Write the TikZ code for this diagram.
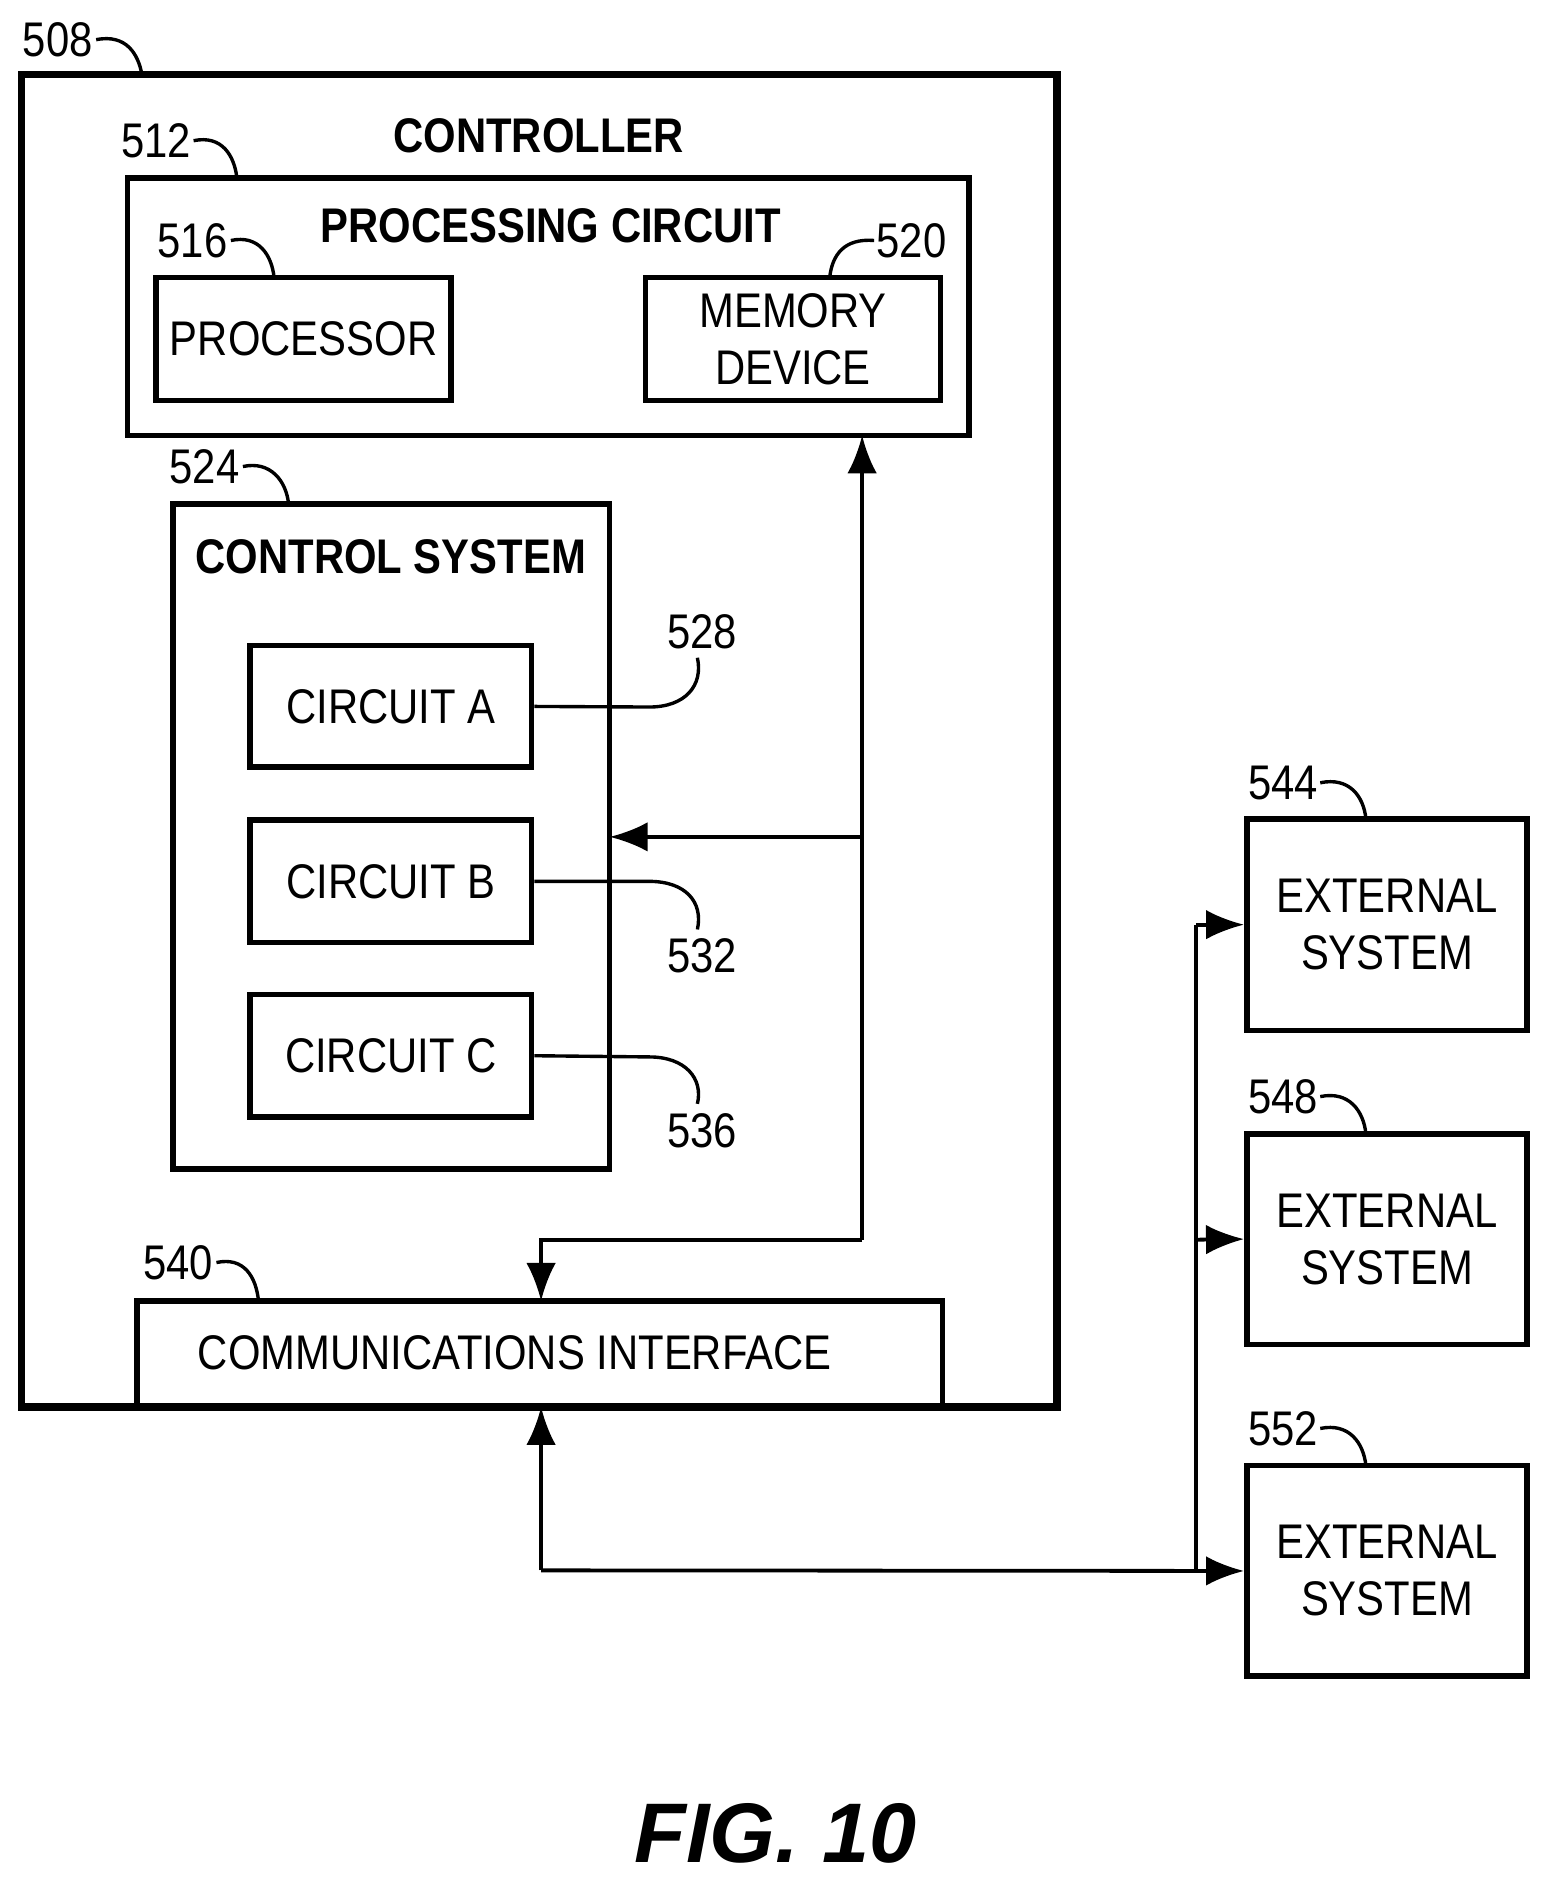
\documentclass[tikz,border=0pt]{standalone}
\usepackage{fontspec}
\setmainfont{Liberation Sans}[FakeStretch=0.86]
\newfontfamily\figfont{Liberation Sans}
\usetikzlibrary{arrows.meta}
\begin{document}
\begin{tikzpicture}[x=0.01cm,y=-0.01cm,
  box/.style={draw,line width=1.3pt},
  txt/.style={font=\fontsize{11.5}{13.5}\selectfont,align=center,inner sep=0pt},
  btxt/.style={font=\fontsize{11.5}{14}\selectfont\bfseries,inner sep=0pt},
  lead/.style={line width=0.8pt},
  con/.style={line width=0.9pt},
  arr/.style={con,-{Latex[length=9pt,width=7pt]}}]
\useasboundingbox (0,0) rectangle (1300,1581);
% controller
\draw[line width=1.8pt] (18,62) rectangle (879,1170);
\node[txt] (l508) at (48,33) {508};
\draw[lead] (80,33) .. controls (105,28) and (115,45) .. (118,62);
\node[btxt] (ctl) at (448,113) {CONTROLLER};
% processing circuit
\draw[box] (106,148) rectangle (806,362);
\coordinate (pctop) at (717,362);
\node[txt] (l512) at (130,117) {512};
\draw[lead] (161,117) .. controls (185,112) and (195,130) .. (197,148);
\node[btxt] (pc) at (458,188) {PROCESSING CIRCUIT};
\node[box,minimum width=2.45cm,minimum height=1.02cm,txt] (proc) at (252.5,282) {PROCESSOR};
\node[txt] (l516) at (160,200) {516};
\draw[lead] (192,200) .. controls (215,195) and (226,212) .. (228,231);
\node[box,minimum width=2.45cm,minimum height=1.02cm,txt] (mem) at (659.5,282) {MEMORY\\DEVICE};
\node[txt] (l520) at (758,200) {520};
\draw[lead] (727,200) .. controls (702,198) and (692,212) .. (690,231);
% control system
\draw[box] (144,419) rectangle (507,972);
\coordinate (csr) at (507,696);
\node[txt] (l524) at (170,388) {524};
\draw[lead] (202,388) .. controls (225,383) and (238,400) .. (240,419);
\node[btxt] (cs) at (325,463) {CONTROL SYSTEM};
\node[box,minimum width=2.34cm,minimum height=1.01cm,txt] (ca) at (325,587.5) {CIRCUIT A};
\node[box,minimum width=2.34cm,minimum height=1.02cm,txt] (cb) at (325,733) {CIRCUIT B};
\node[box,minimum width=2.34cm,minimum height=1.02cm,txt] (cc) at (325,878) {CIRCUIT C};
\node[txt] (l528) at (584,525) {528};
\draw[lead] (ca.east) -- (540,588) .. controls (570,588) and (585,570) .. (580,547);
\node[txt] (l532) at (584,795) {532};
\draw[lead] (cb.east) -- (540,733) .. controls (570,733) and (585,750) .. (580,773);
\node[txt] (l536) at (584,940) {536};
\draw[lead] (cc.east) -- (540,879) .. controls (570,879) and (585,897) .. (580,918);
% comm interface
\draw[box] (114,1168) -- (114,1082) -- (784,1082) -- (784,1168);
\node[txt] (ci) at (428,1125) {COMMUNICATIONS INTERFACE};
\coordinate (citop) at (450,1082);
\coordinate (cibot) at (450,1170);
\node[txt] (l540) at (148,1050) {540};
\draw[lead] (180,1050) .. controls (203,1045) and (213,1062) .. (215,1082);
% bus
\coordinate (b1) at (717,1031);
\coordinate (b2) at (717,696);
\coordinate (b3) at (450,1031);
\draw[arr] (b1) -- (pctop);
\draw[arr] (b2) -- (csr);
\draw[arr] (b1) -- (b3) -- (citop);
% external
\node[box,minimum width=2.33cm,minimum height=1.76cm,txt] (e1) at (1153.5,769) {EXTERNAL\\SYSTEM};
\node[box,minimum width=2.33cm,minimum height=1.75cm,txt] (e2) at (1153.5,1030.5) {EXTERNAL\\SYSTEM};
\node[box,minimum width=2.33cm,minimum height=1.75cm,txt] (e3) at (1153.5,1306.5) {EXTERNAL\\SYSTEM};
\node[txt] (l544) at (1067,651) {544};
\draw[lead] (1098,651) .. controls (1122,646) and (1134,662) .. (1136,681);
\node[txt] (l548) at (1067,912) {548};
\draw[lead] (1098,912) .. controls (1122,907) and (1134,924) .. (1136,943);
\node[txt] (l552) at (1067,1188) {552};
\draw[lead] (1098,1188) .. controls (1122,1183) and (1134,1200) .. (1136,1219);
\coordinate (x0) at (450,1306);
\coordinate (x1) at (995,1306);
\coordinate (x2) at (995,1031);
\coordinate (x3) at (995,769);
\draw[arr] (x0) -- (cibot);
\draw[arr] (x0) -- (e3.west);
\draw[con] (x1) -- (x3);
\draw[arr] (x3) -- (e1.west);
\draw[arr] (x2) -- (e2.west);
\node[font=\figfont\fontsize{20}{24}\selectfont\bfseries\itshape] (fig) at (645,1525) {FIG. 10};
\end{tikzpicture}
\end{document}
